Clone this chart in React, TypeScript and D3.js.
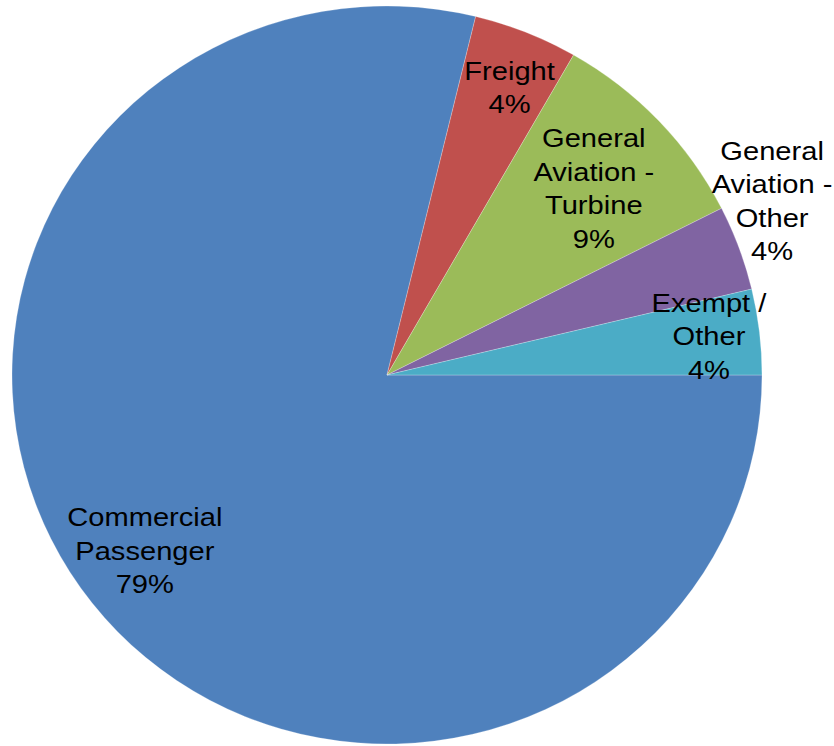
import React, { useEffect } from "react";
import * as d3 from "d3";

// shares of operations (percent)
const categories = [
  "Commercial Passenger",
  "Freight",
  "General Aviation - Turbine",
  "General Aviation - Other",
  "Exempt / Other",
];
const shares = [78.8, 4.49, 9.25, 3.72, 3.74];
const colors = ["#4F81BD", "#C0504D", "#9BBB59", "#8064A2", "#4BACC6"];

const width = 834;
const height = 746;
const cx = 387;
const cy = 375;
const ry = 369;
const sx = 375 / 369; // the pie is a touch wider than tall
const fontSize = 26;
const lineHeight = 33.5;

// label nudges: [radius factor, angle shift in degrees]
const labelTweak: Record<string, [number, number]> = {
  "Commercial Passenger": [0.802, 1.8],
  "Freight": [0.845, 1.0],
  "General Aviation - Turbine": [0.748, 1.0],
  "General Aviation - Other": [1.13, -4.5],
  "Exempt / Other": [0.865, -0.3],
};

function wrap(text: string, max = 10) {
  const lines: string[] = [];
  let cur = "";
  text.split(" ").forEach((w) => {
    if (cur && (cur + " " + w).length > max) {
      lines.push(cur);
      cur = w;
    } else {
      cur = cur ? cur + " " + w : w;
    }
  });
  if (cur) lines.push(cur);
  return lines;
}

const data = categories.map((c, i) => ({ name: c, value: shares[i], color: colors[i] }));

const pie = d3
  .pie<{ name: string; value: number; color: string }>()
  .value((d) => d.value)
  .sort(null)
  .startAngle(Math.PI / 2)
  .endAngle(Math.PI / 2 + 2 * Math.PI);

const arc = d3.arc<d3.PieArcDatum<any>>().innerRadius(0).outerRadius(ry);

export default function App() {
  useEffect(() => {
    document.body.style.margin = "0";
  }, []);

  const arcs = pie(data);
  const total = d3.sum(shares);

  return (
    <svg width={width} height={height} style={{ display: "block" }}>
      <rect width={width} height={height} fill="#fff" />
      <g transform={`translate(${cx},${cy}) scale(${sx},1)`}>
        {arcs.map((a) => (
          <path key={a.data.name} d={arc(a) as string} fill={a.data.color} stroke="#fff" strokeWidth={0.4} strokeOpacity={0.6} />
        ))}
      </g>
      <g fontFamily="'Liberation Sans', Arial, sans-serif" fontSize={fontSize} fill="#000" textAnchor="middle">
        {arcs.map((a) => {
          const [k, dDeg] = labelTweak[a.data.name];
          const ang = (a.startAngle + a.endAngle) / 2 + (dDeg * Math.PI) / 180;
          const r = ry * k;
          const x = cx + sx * r * Math.sin(ang);
          const y = cy - r * Math.cos(ang);
          const lines = [...wrap(a.data.name), `${Math.round((a.data.value / total) * 100)}%`];
          const y0 = y - ((lines.length - 1) / 2) * lineHeight + 0.35 * fontSize;
          return (
            <g key={a.data.name} transform={`translate(${x},${y0}) scale(1.12,1)`}>
              {lines.map((l, i) => (
                <text key={i} x={0} y={i * lineHeight}>
                  {l}
                </text>
              ))}
            </g>
          );
        })}
      </g>
    </svg>
  );
}
